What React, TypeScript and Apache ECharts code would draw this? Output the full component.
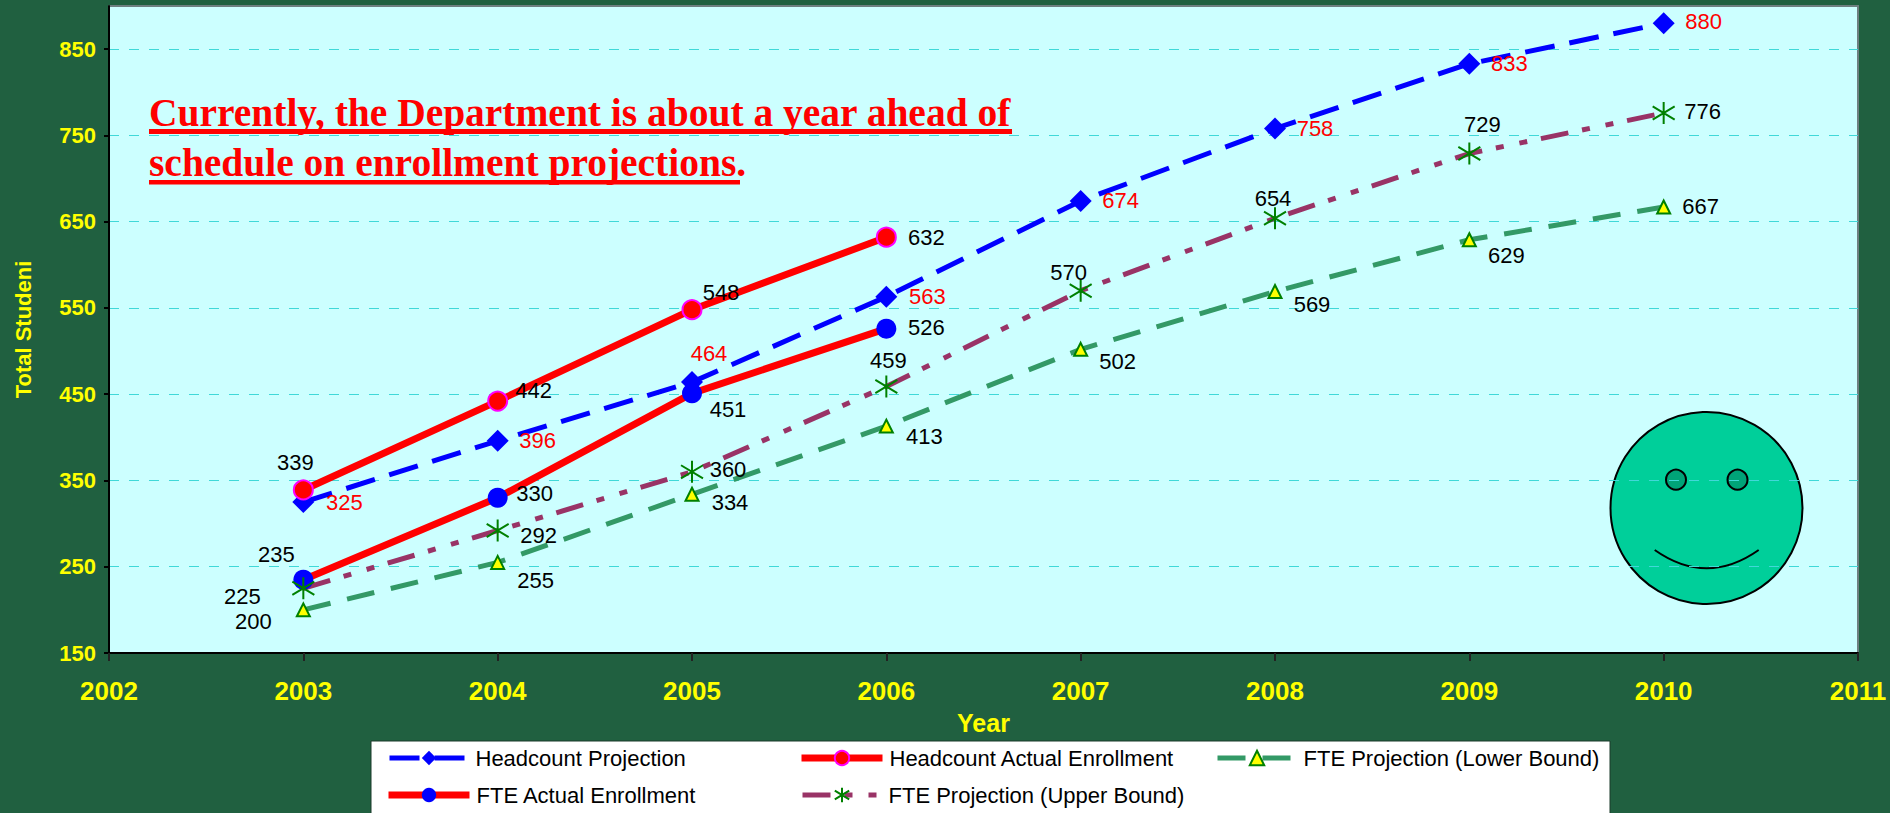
import React, { useEffect, useRef } from "react";
import * as echarts from "echarts";

const years = [2003, 2004, 2005, 2006, 2007, 2008, 2009, 2010];
const headcountProjection = [325, 396, 464, 563, 674, 758, 833, 880];
const headcountActual = [339, 442, 548, 632];
const fteActual = [235, 330, 451, 526];
const fteUpper = [225, 292, 360, 459, 570, 654, 729, 776];
const fteLower = [200, 255, 334, 413, 502, 569, 629, 667];
const yTicks = [150, 250, 350, 450, 550, 650, 750, 850];

const headcountProjectionOffsets = [[41, 0], [40, 0], [17, -29], [41, 0], [40, 0], [40, 0], [40, 0], [40, -2]];
const headcountActualOffsets = [[-8, -27], [36, -11], [29, -17], [40, 0]];
const fteActualOffsets = [[-27, -25], [37, -4], [36, 16], [40, -1]];
const fteUpperOffsets = [[-61, 8], [41, 5], [36, -2], [2, -26], [-12, -18], [-2, -20], [13, -29], [39, -1]];
const fteLowerOffsets = [[-50, 12], [38, 18], [38, 8], [38, 10], [37, 12], [37, 13], [37, 16], [37, -1]];

const NOTE_LINE_1 = "Currently, the Department is about a year ahead of";
const NOTE_LINE_2 = "schedule on enrollment projections.";
const SANS = "'Liberation Sans', Arial, sans-serif";
const SERIF = "'Liberation Serif', 'Times New Roman', serif";
const STAR = "path://M0 -10 L0 10 M-10 -6 L10 6 M-10 6 L10 -6";

function makeSeries(
  name: string,
  values: number[],
  offsets: number[][],
  labelColor: string,
  line: any,
  symbol: string,
  symbolSize: number,
  itemStyle: any
) {
  return {
    name,
    type: "line",
    symbol,
    symbolSize,
    showAllSymbol: true,
    lineStyle: line,
    itemStyle,
    clip: false,
    data: values.map((v, i) => ({
      value: [years[i], v],
      label: { offset: offsets[i] },
    })),
    label: {
      show: true,
      position: "inside",
      color: labelColor,
      fontFamily: SANS,
      fontSize: 22,
      textBorderWidth: 0,
      textBorderColor: "transparent",
      formatter: (p: any) => String(p.value[1]),
    },
  };
}

function legendAt(name: string, left: number, top: number, itemWidth: number, lineWidth: number) {
  return {
    data: [name],
    left,
    top,
    orient: "horizontal",
    padding: 0,
    itemWidth,
    itemHeight: 18,
    itemGap: 0,
    selectedMode: false,
    lineStyle: { width: lineWidth },
    textStyle: { fontFamily: SANS, fontSize: 22, color: "#000", padding: [0, 0, 0, 2] },
  };
}

export default function App() {
  const ref = useRef<HTMLDivElement>(null);
  useEffect(() => {
    document.body.style.margin = "0";
    const chart = echarts.init(ref.current!, null, { renderer: "svg" });
    chart.setOption({
      animation: false,
      backgroundColor: "#206040",
      grid: {
        left: 109,
        right: 32,
        top: 6,
        bottom: 160,
        show: true,
        backgroundColor: "#CCFFFF",
        borderColor: "#6E7F80",
        borderWidth: 2,
      },
      xAxis: {
        type: "value",
        min: 2002,
        max: 2011,
        interval: 1,
        name: "Year",
        nameLocation: "middle",
        nameGap: 57,
        nameTextStyle: { color: "#FFFF00", fontFamily: SANS, fontWeight: "bold", fontSize: 25 },
        splitLine: { show: false },
        axisLine: { show: true, lineStyle: { color: "#000", width: 2 } },
        axisTick: { show: true, length: 8, inside: false, lineStyle: { color: "#222", width: 2 } },
        axisLabel: {
          color: "#FFFF00",
          fontFamily: SANS,
          fontWeight: "bold",
          fontSize: 26,
          margin: 25,
          formatter: (v: number) => String(v),
        },
      },
      yAxis: {
        type: "value",
        min: 150,
        max: 900,
        name: "Total Studeni",
        nameLocation: "middle",
        nameGap: 75,
        nameTextStyle: { color: "#FFFF00", fontFamily: SANS, fontWeight: "bold", fontSize: 22 },
        axisLine: { show: true, lineStyle: { color: "#000", width: 2 } },
        axisTick: { show: true, length: 5, customValues: yTicks, lineStyle: { color: "#000", width: 2 } },
        axisLabel: {
          color: "#FFFF00",
          fontFamily: SANS,
          fontWeight: "bold",
          fontSize: 22,
          margin: 13,
          customValues: yTicks,
        },
        splitLine: { show: true, lineStyle: { color: "#40D8D8", width: 1, type: [10, 10] } },
      },
      legend: [
        legendAt("Headcount Projection", 387, 747, 79, 5),
        legendAt("Headcount Actual Enrollment", 798, 747, 81, 7),
        legendAt("FTE Projection (Lower Bound)", 1215, 747, 79, 5),
        legendAt("FTE Actual Enrollment", 385, 784, 81, 7),
        legendAt("FTE Projection (Upper Bound)", 800, 784, 79, 5),
      ],
      graphic: [
        { type: "rect", z: -1, shape: { x: 371, y: 741, width: 1239, height: 80 }, style: { fill: "#FFFFFF", stroke: "#1A3A2A", lineWidth: 1 } },
        {
          type: "text",
          x: 149,
          y: 92,
          scaleX: 0.963,
          style: { text: NOTE_LINE_1, fill: "#FF0000", font: `bold 41px ${SERIF}`, verticalAlign: "top" },
        },
        { type: "rect", shape: { x: 149, y: 129, width: 863, height: 5 }, style: { fill: "#FF0000" } },
        {
          type: "text",
          x: 149,
          y: 142,
          scaleX: 0.963,
          style: { text: NOTE_LINE_2, fill: "#FF0000", font: `bold 41px ${SERIF}`, verticalAlign: "top" },
        },
        { type: "rect", shape: { x: 149, y: 180, width: 591, height: 4.5 }, style: { fill: "#FF0000" } },
        { type: "circle", shape: { cx: 1706.5, cy: 508, r: 96 }, style: { fill: "#00CF9A", stroke: "#000", lineWidth: 2 } },
        { type: "circle", shape: { cx: 1676, cy: 479.7, r: 10 }, style: { fill: "#00A478", stroke: "#000", lineWidth: 2 } },
        { type: "circle", shape: { cx: 1737.5, cy: 479.7, r: 10 }, style: { fill: "#00A478", stroke: "#000", lineWidth: 2 } },
        {
          type: "bezierCurve",
          shape: { x1: 1654.7, y1: 550, cpx1: 1706.7, cpy1: 586.6, x2: 1758.7, y2: 550 },
          style: { fill: "none", stroke: "#000", lineWidth: 2 },
        },
      ],
      series: [
        makeSeries("Headcount Projection", headcountProjection, headcountProjectionOffsets, "#FF0000",
          { color: "#0000FF", width: 5, type: [30, 15] }, "diamond", 22, { color: "#0000FF" }),
        makeSeries("Headcount Actual Enrollment", headcountActual, headcountActualOffsets, "#000",
          { color: "#FF0000", width: 7 }, "circle", 19,
          { color: "#FF0000", borderColor: "#FF00FF", borderWidth: 2 }),
        makeSeries("FTE Projection (Lower Bound)", fteLower, fteLowerOffsets, "#000",
          { color: "#339966", width: 5, type: [28, 17] }, "triangle", 13,
          { color: "#FFFF00", borderColor: "#008000", borderWidth: 2 }),
        makeSeries("FTE Actual Enrollment", fteActual, fteActualOffsets, "#000",
          { color: "#FF0000", width: 7 }, "circle", 20, { color: "#0000FF" }),
        makeSeries("FTE Projection (Upper Bound)", fteUpper, fteUpperOffsets, "#000",
          { color: "#993366", width: 5, type: [28, 14, 8, 16, 8, 14] }, STAR, 22,
          { color: "none", borderColor: "#008000", borderWidth: 2 }),
      ],
    });
    return () => chart.dispose();
  }, []);
  return <div ref={ref} style={{ position: "absolute", left: 0, top: 0, width: 1890, height: 813 }} />;
}
